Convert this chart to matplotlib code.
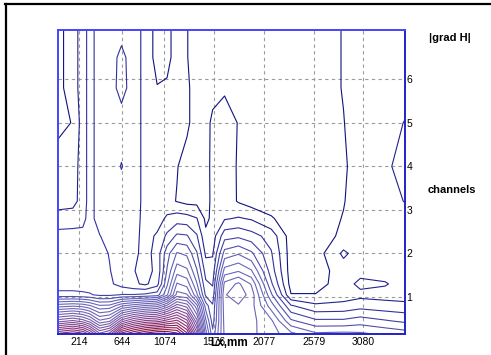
import numpy as np
import matplotlib
matplotlib.use("Agg")
import matplotlib.pyplot as plt
from matplotlib.colors import LinearSegmentedColormap
from matplotlib.lines import Line2D

plt.rcParams['font.family'] = ['Liberation Sans', 'DejaVu Sans']

# grid nodes: position along profile (mm) and channel number
x_mm = [0, 150, 250, 320, 420, 520, 640, 760, 880, 1000, 1100, 1200, 1300,
        1400, 1490, 1560, 1680, 1820, 1950, 2150, 2350, 2600, 2880, 3050, 3300, 3500]
chan = [0.15, 0.45, 0.8, 1.05, 1.3, 1.6, 2.0, 2.4, 2.8, 3.2, 4.0, 5.0, 5.8, 6.5, 7.13]

# |grad H|, one row per channel
g015 = [21.3, 22.2, 21.4, 19.6, 16.3, 17.5, 22.5, 24.2, 25.5, 26.4, 26.3, 25.4, 22.4, 16.4, 8.5, 5.3, 9.2, 9.5, 9.2, 8.5, 7.3, 6.2, 6.3, 6.2, 5.8, 5.5]
g045 = [14.5, 15.2, 14.5, 13.5, 11.2, 11.8, 15.5, 17.2, 18.2, 18.5, 19.5, 20.3, 18.3, 13.3, 7.2, 4.5, 9.4, 9.7, 9.3, 8.2, 5.2, 4.2, 4.2, 4.5, 4.1, 3.8]
g080 = [8.5, 8.8, 8.6, 8.1, 7.1, 7.2, 8.8, 9.5, 10.1, 10.5, 12.2, 14.5, 13.5, 10.3, 5.5, 4.1, 9.6, 9.9, 9.4, 6.5, 3.1, 2.2, 2.3, 2.6, 2.4, 2.3]
g105 = [4.3, 4.3, 4.2, 4.1, 3.8, 3.8, 4.05, 4.05, 4.2, 4.5, 6.8, 10.4, 10.1, 7.2, 3.8, 3.4, 9.9, 10.6, 9.6, 5.2, 1.05, 1.05, 1.5, 1.7, 1.6, 1.5]
g130 = [3.5, 3.5, 3.5, 3.5, 3.4, 3.2, 2.6, 2.2, 1.8, 2.6, 5.8, 9.1, 8.6, 6.1, 3.2, 2.9, 9.3, 10.2, 8.9, 4.2, 0.6, 0.6, 1.5, 2.3, 2.1, 1.5]
g160 = [3.4, 3.4, 3.4, 3.4, 3.3, 3.05, 2.5, 2.05, 1.7, 2.2, 5.1, 7.6, 7.2, 5.1, 2.6, 2.4, 7.4, 7.9, 7.1, 3.5, 0.5, 0.5, 1.5, 1.6, 1.5, 1.5]
g200 = [3.3, 3.3, 3.3, 3.4, 3.3, 2.95, 2.5, 2.3, 1.6, 2.4, 4.6, 6.1, 5.8, 4.1, 1.8, 1.9, 5.4, 5.9, 5.2, 3.1, 0.5, 0.5, 2.2, 1.5, 1.5, 1.5]
g240 = [3.3, 3.3, 3.3, 3.4, 3.05, 2.5, 2.5, 2.4, 1.6, 2.15, 3.2, 4.2, 4.1, 3.1, 1.2, 1.5, 3.6, 3.8, 3.4, 2.6, 0.5, 0.5, 1.2, 1.5, 1.5, 1.5]
g280 = [2.5, 2.6, 2.7, 3.4, 2.5, 2.5, 2.5, 2.4, 1.7, 1.5, 2.2, 2.5, 2.4, 2.05, 0.8, 1.2, 1.9, 2.1, 1.9, 1.1, 0.5, 0.5, 1.05, 1.5, 1.5, 1.5]
g320 = [1.5, 1.6, 2.5, 3.4, 2.5, 2.5, 2.5, 2.5, 1.7, 1.4, 1.3, 0.95, 0.7, 0.7, 0.7, 1.2, 1.6, 0.9, 0.5, 0.5, 0.5, 0.5, 0.95, 1.5, 1.5, 2.05]
g400 = [1.5, 1.5, 2.5, 3.4, 2.5, 2.5, 3.05, 2.5, 1.7, 1.4, 1.35, 1.05, 0.6, 0.6, 0.6, 1.3, 1.5, 0.9, 0.5, 0.5, 0.5, 0.5, 0.85, 1.5, 1.8, 2.4]
g500 = [0.7, 1.05, 2.5, 3.4, 2.5, 2.5, 2.5, 2.5, 1.7, 1.4, 1.35, 1.3, 1.2, 0.5, 0.5, 1.3, 1.5, 0.95, 0.5, 0.5, 0.5, 0.5, 0.97, 1.5, 1.5, 2.05]
g580 = [0.7, 1.5, 2.5, 3.4, 2.5, 2.5, 3.4, 2.5, 1.7, 1.05, 1.1, 1.3, 1.2, 0.5, 0.5, 0.5, 0.85, 0.5, 0.5, 0.5, 0.5, 0.5, 1.05, 1.5, 1.5, 1.5]
g650 = [0.7, 1.5, 2.5, 3.4, 2.5, 2.5, 3.3, 2.5, 1.7, 0.6, 0.8, 1.3, 1.05, 0.5, 0.5, 0.5, 0.5, 0.5, 0.5, 0.5, 0.5, 0.5, 1.05, 1.5, 1.5, 1.5]
g713 = [0.7, 1.5, 2.5, 3.4, 2.5, 2.5, 2.6, 2.5, 1.7, 0.6, 0.8, 1.3, 1.05, 0.5, 0.5, 0.5, 0.5, 0.5, 0.5, 0.5, 0.5, 0.5, 1.05, 1.5, 1.5, 1.5]

x_ticks = [214, 644, 1074, 1576, 2077, 2579, 3080]
y_ticks = [1, 2, 3, 4, 5, 6]

Z = np.array([g015, g045, g080, g105, g130, g160, g200, g240, g280,
              g320, g400, g500, g580, g650, g713])

cmap = LinearSegmentedColormap.from_list(
    'gradh', [(0.0, '#12127e'), (0.08, '#3232a0'), (0.22, '#6666bc'),
              (0.45, '#7462b0'), (0.65, '#844490'), (0.85, '#8a1c58'),
              (1.0, '#8a0a34')])

fig = plt.figure(figsize=(4.91, 3.55), dpi=100)
ax = fig.add_axes([58/491, 1 - 334/355, 347/491, 304/355])

ax.contour(x_mm, chan, Z, levels=np.arange(1, 27), cmap=cmap, linewidths=0.8)

ax.set_xlim(0, 3500)
ax.set_ylim(0.15, 7.13)
ax.set_xticks(x_ticks)
ax.set_yticks(y_ticks)
ax.grid(True, color='#9a9a9a', linestyle=(0, (3, 3)), linewidth=0.8)
ax.tick_params(axis='x', length=0, pad=2, labelsize=7.5)
ax.tick_params(axis='y', length=0, pad=1, labelsize=7.5,
               left=False, labelleft=False, right=True, labelright=True)

for side in ['left', 'top']:
    ax.spines[side].set_color('#4444ff')
    ax.spines[side].set_linewidth(1.4)
for side in ['right', 'bottom']:
    ax.spines[side].set_color('#2222c8')
    ax.spines[side].set_linewidth(1.4)

fig.text(450/491, 1 - 38/355, '|grad H|', ha='center', va='center',
         fontsize=8, fontweight='bold')
fig.text(452/491, 1 - 190/355, 'channels', ha='center', va='center',
         fontsize=8, fontweight='bold')
fig.text(229/491, 1 - 343/355, 'Lx,mm', ha='center', va='center',
         fontsize=8.5, fontweight='bold')

# black frame round the chart area
fig.add_artist(Line2D([5/491, 1], [1 - 4/355, 1 - 4/355], color='black', lw=1.6))
fig.add_artist(Line2D([5.5/491, 5.5/491], [0, 1 - 4/355], color='black', lw=1.6))

fig.savefig('out.png', dpi=100)
